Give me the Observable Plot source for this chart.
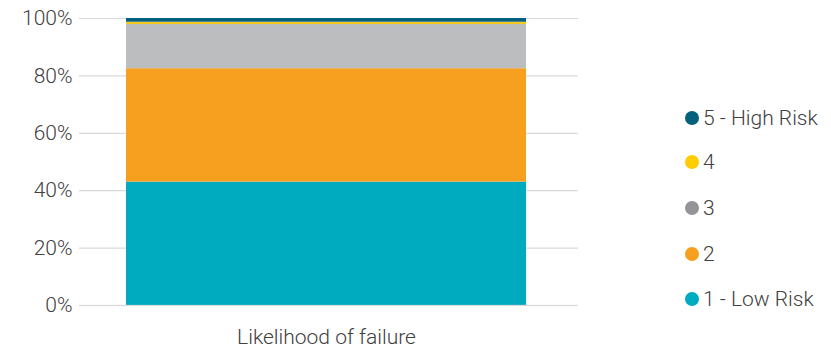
<!DOCTYPE html>
<html>
<head>
<meta charset="utf-8">
<script src="https://cdn.jsdelivr.net/npm/d3@7"></script>
<script src="https://cdn.jsdelivr.net/npm/@observablehq/plot@0.6"></script>
<style>
  html, body { margin: 0; padding: 0; background: #fff; }
  #wrap { position: relative; width: 831px; height: 350px; font-family: Roboto, sans-serif; }
  #legend { position: absolute; left: 685px; top: 0; }
  .item { position: absolute; display: flex; align-items: center; white-space: nowrap;
          font-family: Roboto, sans-serif; font-weight: 300; font-size: 21px; color: #404040; }
  .dot { width: 14px; height: 14px; border-radius: 50%; margin-right: 4px; }
</style>
</head>
<body>
<div id="wrap"></div>
<script>
const category = ["Likelihood of failure"];
const levels = ["1 - Low Risk", "2", "3", "4", "5 - High Risk"];
const shares = [43.0, 39.5, 15.4, 0.8, 1.3];
const barColors = ["#00abbf", "#f7a01f", "#bcbdbe", "#f7c81c", "#05607e"];
const legendColors = ["#00abbf", "#f7a01f", "#939598", "#ffcc00", "#05607e"];
const yTicks = [0, 20, 40, 60, 80, 100];

const data = levels.map((l, i) => ({cat: category[0], level: l, value: shares[i]}));

const chart = Plot.plot({
  width: 831,
  height: 350,
  marginLeft: 79,
  marginRight: 253,
  marginTop: 18,
  marginBottom: 45,
  style: {fontFamily: "Roboto, sans-serif", fontWeight: 300, fontSize: "21px", color: "#404040", background: "#fff", overflow: "visible"},
  x: {domain: category, padding: 0.1089, align: 0.48, label: null, tickSize: 0, tickPadding: 24},
  y: {domain: [0, 100], ticks: yTicks, tickFormat: d => d + "%", label: null, tickSize: 0, tickPadding: 7},
  color: {domain: levels, range: barColors},
  marks: [
    Plot.ruleY(yTicks, {stroke: "#d9d9d9", strokeWidth: 1.2}),
    Plot.barY(data, {x: "cat", y: "value", fill: "level"}),
    Plot.ruleY([0], {stroke: "#d9d9d9", strokeOpacity: 0.5, strokeWidth: 1.5})
  ]
});
const wrap = document.getElementById("wrap");
wrap.appendChild(chart);

const legend = document.createElement("div");
legend.id = "legend";
const legendTop = [118, 162, 208, 254, 299];
const order = [4, 3, 2, 1, 0];
order.forEach((idx, j) => {
  const it = document.createElement("div");
  it.className = "item";
  it.style.top = (legendTop[j] - 13) + "px";
  it.style.height = "26px";
  const d = document.createElement("span");
  d.className = "dot";
  d.style.background = legendColors[idx];
  const t = document.createElement("span");
  t.textContent = levels[idx];
  it.appendChild(d); it.appendChild(t);
  legend.appendChild(it);
});
wrap.appendChild(legend);
</script>
</body>
</html>
